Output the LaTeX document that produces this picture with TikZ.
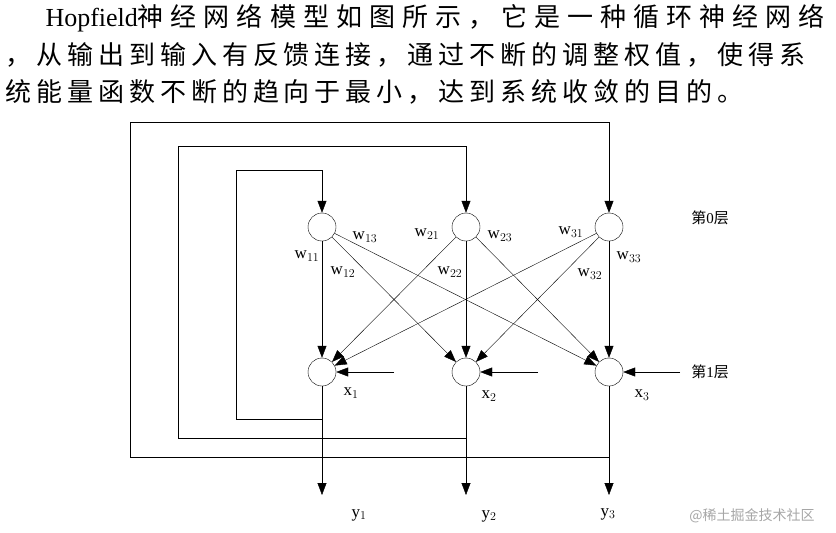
\documentclass[tikz,border=0pt]{standalone}
\usepackage{fontspec}
\setmainfont{Liberation Serif}
\newfontfamily\cjk[LetterSpace=19]{Noto Sans CJK SC}
\newfontfamily\cjka[LetterSpace=27]{Noto Sans CJK SC}
\newfontfamily\cjkw{Noto Sans CJK SC}
\usetikzlibrary{arrows.meta}
\begin{document}
\begin{tikzpicture}[x=1pt,y=-1pt,
  neu/.style={circle,draw,minimum size=28pt,inner sep=0pt},
  arr/.style={-{Triangle[length=12pt,width=9pt]}},
  lab/.style={font=\fontsize{17}{17}\selectfont}]
\useasboundingbox (0,0) rectangle (836,533);
\node[anchor=west,font=\fontsize{26}{26}\selectfont] (l1) at (42,18) {Hopfield{\cjka 神经网络模型如图所示，它是一种循环神经网络}};
\node[anchor=west,font=\fontsize{26}{26}\selectfont\cjk] (l2) at (2,55) {，从输出到输入有反馈连接，通过不断的调整权值，使得系};
\node[anchor=west,font=\fontsize{26}{26}\selectfont\cjk] (l3) at (2,92) {统能量函数不断的趋向于最小，达到系统收敛的目的。};
\foreach \i/\x in {1/322,2/466,3/609}{
  \node[neu] (t\i) at (\x,227) {};
  \node[neu] (b\i) at (\x,372) {};
  \coordinate (o\i) at (\x,495);
}
\foreach \i in {1,2,3}{\foreach \j in {1,2,3}{\draw[arr] (t\i) -- (b\j);}}
\foreach \i in {1,2,3}{\draw[arr] (b\i) -- (o\i);}
% feedback loops
\coordinate (f1) at (322,419); \coordinate (f2) at (466,438); \coordinate (f3) at (609,457);
\draw[arr] (f1) -- (236,419) -- (236,170) -- (322,170) -- (t1);
\draw[arr] (f2) -- (178,438) -- (178,146) -- (466,146) -- (t2);
\draw[arr] (f3) -- (130,457) -- (130,122) -- (609,122) -- (t3);
% inputs
\coordinate (i1) at (394,372); \coordinate (i2) at (538,372); \coordinate (i3) at (680,372);
\draw[arr] (i1) -- (b1); \draw[arr] (i2) -- (b2); \draw[arr] (i3) -- (b3);
% labels
\node[lab] (w13) at (365,237) {w$_{13}$};
\node[lab] (w11) at (307,256) {w$_{11}$};
\node[lab] (w12) at (343,272) {w$_{12}$};
\node[lab] (w21) at (427,234) {w$_{21}$};
\node[lab] (w23) at (500,236) {w$_{23}$};
\node[lab] (w22) at (450,272) {w$_{22}$};
\node[lab] (w31) at (571,232) {w$_{31}$};
\node[lab] (w33) at (629,257) {w$_{33}$};
\node[lab] (w32) at (590,274) {w$_{32}$};
\node[lab] (x1) at (351,393) {x$_1$};
\node[lab] (x2) at (489,396) {x$_2$};
\node[lab] (x3) at (642,395) {x$_3$};
\node[lab] (y1) at (359,515) {y$_1$};
\node[lab] (y2) at (489,516) {y$_2$};
\node[lab] (y3) at (608,514) {y$_3$};
\node[font=\fontsize{15}{15}\selectfont] (L0) at (710,218) {{\cjkw 第}0{\cjkw 层}};
\node[font=\fontsize{15}{15}\selectfont] (L1) at (710,372) {{\cjkw 第}1{\cjkw 层}};
\node[font=\fontsize{14}{14}\selectfont\cjkw,text=gray!70] (wm) at (752,516) {@稀土掘金技术社区};
\end{tikzpicture}
\end{document}
